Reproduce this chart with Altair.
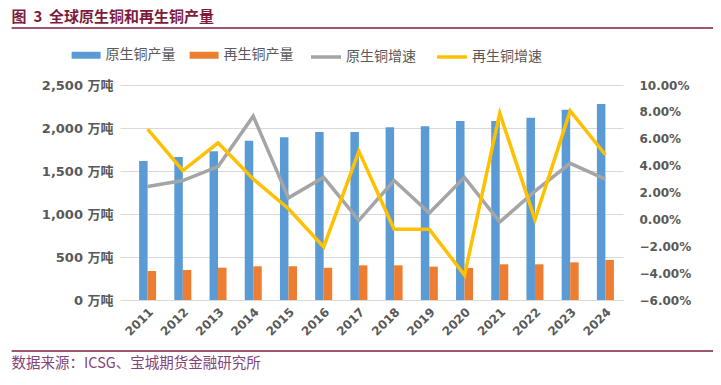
import altair as alt
import pandas as pd

# ---------------- data ----------------
years = [str(y) for y in range(2011, 2025)]
primary_output = [1616, 1663, 1729, 1853, 1892, 1953, 1953, 2008, 2020, 2081, 2081, 2120, 2213, 2279]
secondary_output = [337, 349, 376, 391, 391, 376, 403, 403, 388, 372, 415, 415, 438, 465]
primary_growth = [2.44, 2.89, 3.93, 7.68, 1.60, 3.13, -0.07, 2.89, 0.47, 3.13, -0.20, 2.10, 4.17, 2.99]
secondary_growth = [6.72, 3.63, 5.70, 3.00, 0.79, -2.05, 5.06, -0.74, -0.74, -4.15, 7.90, -0.02, 8.07, 4.81]

bar_series = ["原生铜产量", "再生铜产量"]
line_series = ["原生铜增速", "再生铜增速"]
bar_colors = ["#5B9BD5", "#ED7D31"]
line_colors = ["#A5A5A5", "#FFC000"]
left_ticks = [0, 500, 1000, 1500, 2000, 2500]
right_ticks = [-6, -4, -2, 0, 2, 4, 6, 8, 10]
title_text = "图\u00a0\u00a03\u00a0\u00a0全球原生铜和再生铜产量"
source_text = "数据来源：ICSG、宝城期货金融研究所"

bars_df = pd.DataFrame({
    "year": years * 2,
    "series": [bar_series[0]] * len(years) + [bar_series[1]] * len(years),
    "value": primary_output + secondary_output,
})
lines_df = pd.DataFrame({
    "year": years * 2,
    "series": [line_series[0]] * len(years) + [line_series[1]] * len(years),
    "rate": primary_growth + secondary_growth,
})

CJK = "Noto Sans CJK SC"
NUM = "DejaVu Sans, Noto Sans CJK SC"
LABEL = "#595959"
GRID = "#D9D9D9"
MAROON = "#7E1B3C"

x_enc = alt.X(
    "year:N", sort=years, title=None,
    scale=alt.Scale(paddingInner=0.517, paddingOuter=0.2585),
    axis=alt.Axis(labelAngle=-45, labelAlign="right", labelBaseline="top",
                  labelPadding=6, tickSize=0, ticks=False, domainColor=GRID,
                  labelFont=NUM, labelFontSize=12, labelFontWeight="bold",
                  labelColor=LABEL, grid=False),
)

bars = alt.Chart(bars_df).mark_bar().encode(
    x=x_enc,
    xOffset=alt.XOffset("series:N", sort=bar_series,
                        scale=alt.Scale(paddingInner=0, paddingOuter=0)),
    y=alt.Y("value:Q", title=None,
            scale=alt.Scale(domain=[0, 2500], nice=False),
            axis=alt.Axis(orient="left", values=left_ticks,
                          labelExpr="format(datum.value, ',') + ' 万吨'",
                          grid=True, gridColor=GRID, tickColor=GRID,
                          tickSize=10, labelPadding=7, domain=False,
                          labelFont=NUM, labelFontSize=13, labelFontWeight="bold",
                          labelColor=LABEL)),
    color=alt.Color("series:N",
                    scale=alt.Scale(domain=bar_series, range=bar_colors),
                    legend=alt.Legend(orient="none", legendX=-58.4, legendY=-44.5,
                                      direction="horizontal", title=None,
                                      symbolType="M-1,-0.24H1V0.24H-1Z",
                                      symbolSize=841, symbolStrokeWidth=0,
                                      labelFont=CJK, labelFontSize=14,
                                      labelColor=LABEL, labelOffset=5,
                                      columnPadding=14, padding=0)),
)

lines = alt.Chart(lines_df).mark_line(strokeWidth=3.5).encode(
    x=x_enc,
    y=alt.Y("rate:Q", title=None,
            scale=alt.Scale(domain=[-6, 10], nice=False),
            axis=alt.Axis(orient="right", values=right_ticks,
                          labelExpr="format(datum.value, '.2f') + '%'",
                          grid=False, ticks=False, tickSize=0, domain=False,
                          labelPadding=16,
                          labelFont=NUM, labelFontSize=12, labelFontWeight="bold",
                          labelColor=LABEL)),
    stroke=alt.Stroke("series:N",
                      scale=alt.Scale(domain=line_series, range=line_colors),
                      legend=alt.Legend(orient="none", legendX=179, legendY=-45,
                                        direction="horizontal", title=None,
                                        symbolType="stroke", symbolSize=900,
                                        symbolStrokeWidth=3.5,
                                        labelFont=CJK, labelFontSize=14,
                                        labelColor=LABEL, labelOffset=3,
                                        columnPadding=14, padding=0)),
)

one = pd.DataFrame({"t": [0]})
title_mark = alt.Chart(pd.DataFrame({"t": [title_text]})).mark_text(
    align="left", baseline="middle", font=CJK, fontSize=15, fontWeight="bold",
    color=MAROON).encode(text="t:N", x=alt.value(-118.4), y=alt.value(-68.5))
top_rule = alt.Chart(one).mark_rule(color=MAROON, strokeWidth=1.3).encode(
    x=alt.value(-118.4), x2=alt.value(600), y=alt.value(-57))
bottom_rule = alt.Chart(one).mark_rule(color=MAROON, strokeWidth=1.3).encode(
    x=alt.value(-118.4), x2=alt.value(600), y=alt.value(266))
source_mark = alt.Chart(pd.DataFrame({"t": [source_text]})).mark_text(
    align="left", baseline="middle", font=CJK, fontSize=14.5,
    color="#84447A").encode(text="t:N", x=alt.value(-118.4), y=alt.value(279))

chart = alt.layer(bars, lines, title_mark, top_rule, bottom_rule, source_mark).resolve_scale(
    y="independent", color="independent"
).properties(
    width=493, height=215,
    padding={"left": 122, "top": 77, "right": 90, "bottom": 77},
    autosize=alt.AutoSizeParams(type="none"),
    background="white",
).configure_view(strokeWidth=0)

chart.save("out.html", embed_options={"renderer": "svg", "actions": False})
